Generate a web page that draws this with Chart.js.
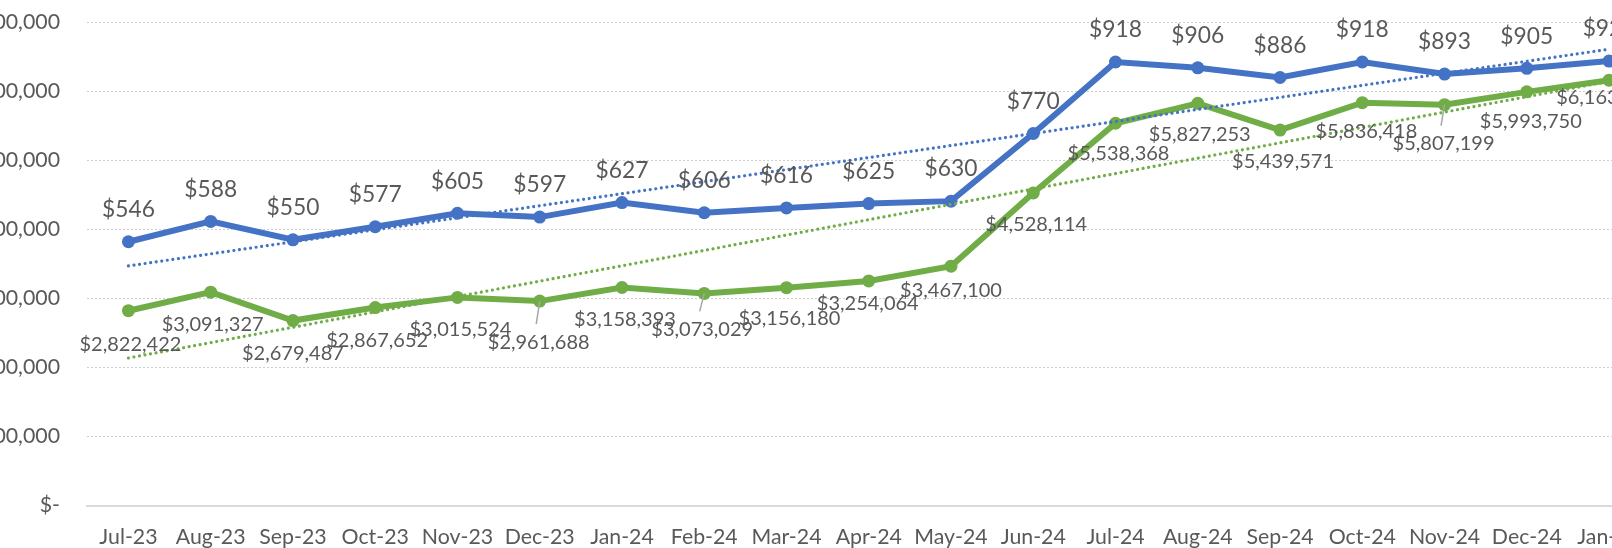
<!DOCTYPE html>
<html>
<head>
<meta charset="utf-8">
<script src="https://cdn.jsdelivr.net/npm/chart.js@4.4.1/dist/chart.umd.min.js"></script>
<style>
  html, body { margin: 0; padding: 0; background: #fff; overflow: hidden; }
  body { width: 1612px; height: 548px; position: relative; }
  /* the chart is wider than the window: the axis labels on the left
     and the last month on the right are cut, like in the source */
  #salesChart { position: absolute; left: -100px; top: 0; }
</style>
</head>
<body>
<canvas id="salesChart" width="1800" height="548"></canvas>
<script>
const months = ['Jul-23', 'Aug-23', 'Sep-23', 'Oct-23', 'Nov-23', 'Dec-23', 'Jan-24', 'Feb-24', 'Mar-24',
  'Apr-24', 'May-24', 'Jun-24', 'Jul-24', 'Aug-24', 'Sep-24', 'Oct-24', 'Nov-24', 'Dec-24', 'Jan-25'];

// monthly totals (left axis)
const totalSales = [2822422, 3091327, 2679487, 2867652, 3015524, 2961688, 3158393, 3073029, 3156180,
  3254064, 3467100, 4528114, 5538368, 5827253, 5439571, 5836418, 5807199, 5993750, 6163000];

// average per unit (right axis)
const avgSales = [546, 588, 550, 577, 605, 597, 627, 606, 616, 625, 630, 770, 918, 906, 886, 918, 893, 905, 920];

const leftTicks = [0, 1000000, 2000000, 3000000, 4000000, 5000000, 6000000, 7000000];

// where the green data labels were dragged to (px from the point)
const totalLabelDx = [2, 2, 0, 2, 3, -1, 3, -2, 3, -1, 0, 3, 3, 2, 3, 4, -1, 4, -2];
const totalLabelDy = [34, 32, 33, 33, 32, 41, 32, 36, 31, 23, 24, 32, 30, 31, 31, 29, 39, 30, 17];
const leaderLines = [5, 7, 16];

const BLUE = '#4472C4';
const GREEN = '#70AD47';
const TEXT = '#595959';
const FONT = 'Lato';

const money = v => '$' + v.toLocaleString('en-US');

// least squares line, same as Excel's linear trendline
function linearTrend(values) {
    const n = values.length;
    const xm = (n - 1) / 2;
    const ym = values.reduce((a, b) => a + b, 0) / n;
    let sxy = 0, sxx = 0;
    values.forEach((v, i) => {
        sxy += (i - xm) * (v - ym);
        sxx += (i - xm) * (i - xm);
    });
    const slope = sxy / sxx;
    return values.map((_, i) => ym + slope * (i - xm));
}

const dataLabels = {
    id: 'dataLabels',
    afterDatasetsDraw(chart) {
        const ctx = chart.ctx;
        ctx.save();
        ctx.fillStyle = TEXT;
        ctx.textAlign = 'center';
        ctx.textBaseline = 'middle';

        ctx.font = '22.8px ' + FONT;
        chart.getDatasetMeta(0).data.forEach((pt, i) => {
            ctx.fillText(money(avgSales[i]), pt.x, pt.y - 32);
        });

        ctx.font = '20px ' + FONT;
        chart.getDatasetMeta(1).data.forEach((pt, i) => {
            const x = pt.x + totalLabelDx[i];
            const y = pt.y + totalLabelDy[i];
            if (leaderLines.includes(i)) {
                ctx.strokeStyle = '#A6A6A6';
                ctx.lineWidth = 1.5;
                ctx.beginPath();
                ctx.moveTo(pt.x, pt.y);
                ctx.lineTo(x - 2.5, y - 18);
                ctx.stroke();
            }
            ctx.fillText(money(totalSales[i]), x, y);
        });
        ctx.restore();
    }
};

const ctx = document.getElementById('salesChart').getContext('2d');

new Chart(ctx, {
    type: 'line',
    data: {
        labels: months,
        datasets: [{
            label: 'Average',
            data: avgSales,
            yAxisID: 'y1',
            borderColor: BLUE,
            backgroundColor: BLUE,
            borderWidth: 6,
            pointRadius: 6.5,
            pointBorderWidth: 0,
            tension: 0,
            order: 2
        }, {
            label: 'Total',
            data: totalSales,
            yAxisID: 'y',
            borderColor: GREEN,
            backgroundColor: GREEN,
            borderWidth: 6,
            pointRadius: 6.5,
            pointBorderWidth: 0,
            tension: 0,
            order: 3
        }, {
            label: 'Average trend',
            data: linearTrend(avgSales),
            yAxisID: 'y1',
            borderColor: BLUE,
            borderWidth: 3.2,
            borderDash: [0.01, 5.6],
            borderCapStyle: 'round',
            pointRadius: 0,
            order: 0
        }, {
            label: 'Total trend',
            data: linearTrend(totalSales),
            yAxisID: 'y',
            borderColor: GREEN,
            borderWidth: 3.2,
            borderDash: [0.01, 5.6],
            borderCapStyle: 'round',
            pointRadius: 0,
            order: 1
        }]
    },
    options: {
        responsive: false,
        animation: false,
        layout: { padding: { top: 22.4, right: 49.8, bottom: 0, left: 0 } },
        plugins: {
            legend: { display: false },
            tooltip: { enabled: false }
        },
        scales: {
            x: {
                offset: true,
                grid: { display: false, drawTicks: false },
                border: { display: true, color: '#D9D9D9', width: 2 },
                ticks: {
                    color: TEXT,
                    font: { family: FONT, size: 21.3 },
                    padding: 18.5,
                    autoSkip: false,
                    maxRotation: 0
                },
                afterFit: scale => { scale.height = 42.5; }
            },
            y: {
                min: 0,
                max: 7000000,
                afterBuildTicks: scale => { scale.ticks = leftTicks.map(v => ({ value: v })); },
                grid: { color: '#CFCFCF', lineWidth: 1, drawTicks: false },
                border: { display: false, dash: [2, 2] },
                ticks: {
                    color: TEXT,
                    font: { family: FONT, size: 21.3 },
                    padding: 27.3,
                    callback: v => v === 0 ? '$-' : money(v)
                },
                afterFit: scale => {
                    scale.width = 187.3;
                    // the tick padding should not push the plot down
                    scale.paddingTop = 0;
                    scale.paddingBottom = 0;
                }
            },
            y1: {
                position: 'right',
                display: false,
                min: 0,
                max: 1000,
                grid: { drawOnChartArea: false }
            }
        }
    },
    plugins: [dataLabels]
});
</script>
</body>
</html>
